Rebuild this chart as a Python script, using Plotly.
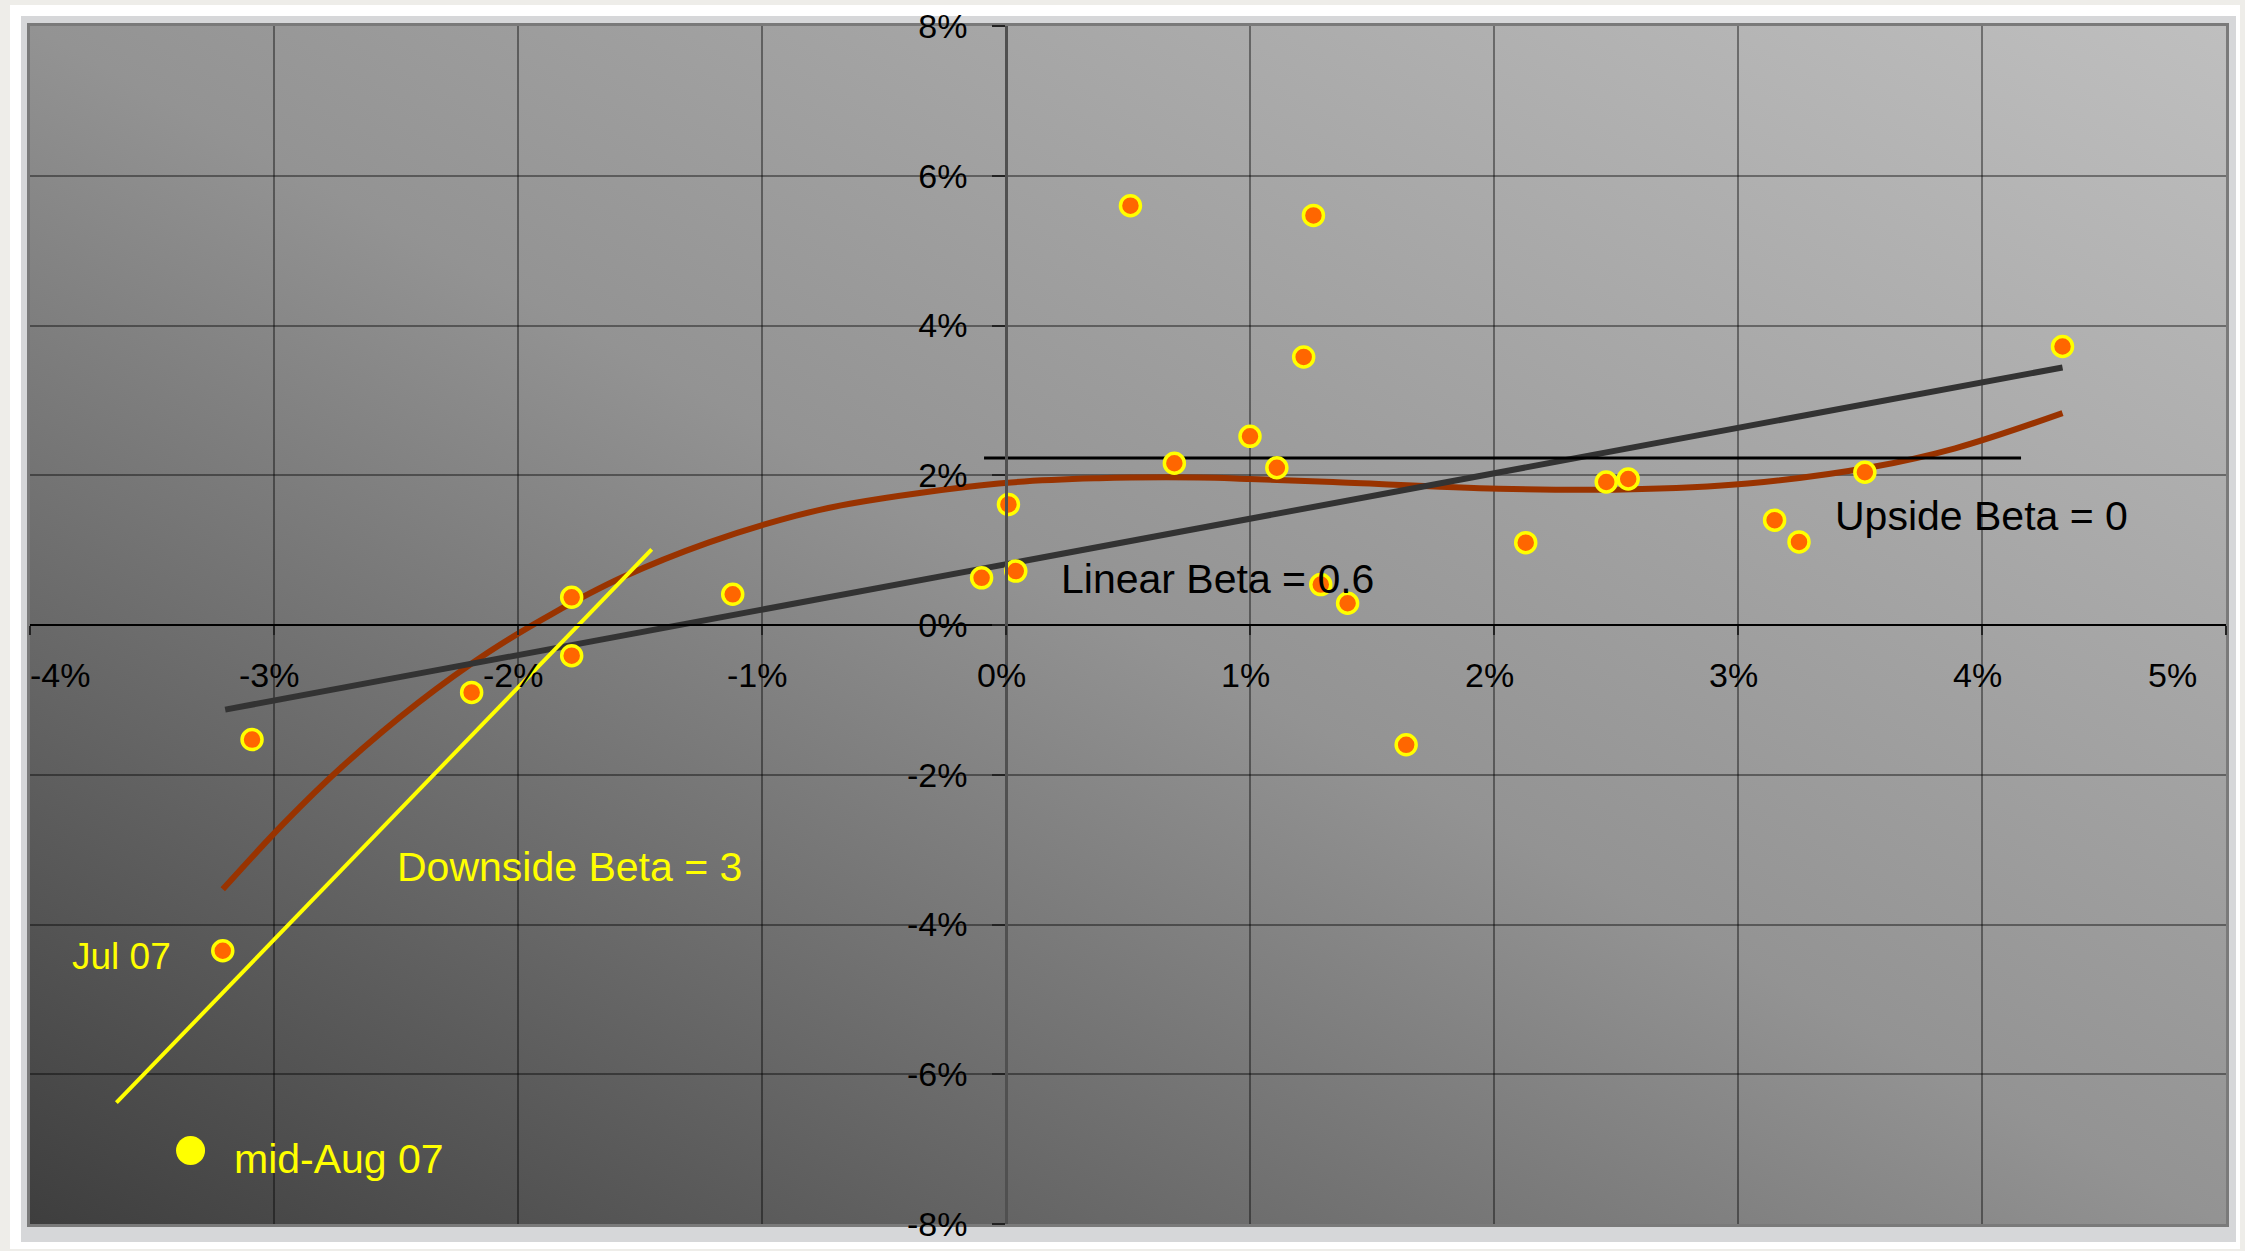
import base64
import plotly.graph_objects as go

# ---------------- data (values in %) ----------------
market_ret = [-3.21, -3.09, -2.19, -1.78, -1.78, -1.12, -0.10, 0.01, 0.04, 0.51, 0.69, 1.00, 1.11,
              1.22, 1.26, 1.29, 1.40, 1.64, 2.13, 2.46, 2.55, 3.15, 3.25, 3.52, 4.33]
fund_ret = [-4.35, -1.53, -0.90, 0.37, -0.41, 0.41, 0.63, 1.61, 0.72, 5.60, 2.16, 2.52, 2.10,
            3.58, 5.47, 0.54, 0.29, -1.60, 1.10, 1.91, 1.95, 1.40, 1.11, 2.04, 3.72]

# polynomial trend
poly_x = [-3.21, -2.96, -2.72, -2.41, -2.12, -1.86, -1.57, -1.22, -0.86, -0.64, -0.03, 0.38,
          0.79, 1.00, 1.34, 2.02, 2.53, 3.04, 3.55, 3.89, 4.33]
poly_y = [-3.53, -2.65, -1.89, -1.04, -0.36, 0.15, 0.64, 1.10, 1.46, 1.62, 1.89, 1.96,
          1.97, 1.95, 1.91, 1.82, 1.81, 1.89, 2.11, 2.36, 2.83]

# linear trend (beta 0.6)
linear_x = [-3.20, 4.33]
linear_y = [-1.13, 3.44]

# downside beta line
down_x = [-3.646, -1.452]
down_y = [-6.38, 1.01]

# upside beta line
up_x = [-0.09, 4.16]
up_y = [2.23, 2.23]

# mid-Aug 07 point
aug_x = [-3.342]
aug_y = [-7.02]

# axes
x_ticks = [-4, -3, -2, -1, 0, 1, 2, 3, 4, 5]
x_tick_labels = ["-4%", "-3%", "-2%", "-1%", "0%", "1%", "2%", "3%", "4%", "5%"]
y_ticks = [-8, -6, -4, -2, 0, 2, 4, 6, 8]
y_tick_labels = ["-8%", "-6%", "-4%", "-2%", "0%", "2%", "4%", "6%", "8%"]

# text labels
label_texts = ["Linear Beta = 0.6", "Upside Beta = 0", "Downside Beta = 3", "Jul 07", "mid-Aug 07"]
label_x = [0.867, 3.996, -1.788, -3.623, -2.734]
label_y = [0.61, 1.45, -3.23, -4.43, -7.13]
label_colors = ["#000000", "#000000", "#ffff00", "#ffff00", "#ffff00"]
label_sizes = [41, 41, 41, 37, 41]

# ---------------- figure ----------------
W, H = 2245, 1251
ML, MR, MT, MB = 30, 19, 26, 27
PW, PH = W - ML - MR, H - MT - MB
FONT = "Liberation Sans, Arial, sans-serif"


def px_x(p):
    return (p - ML) / PW


def px_y(p):
    return (H - MB - p) / PH


fig = go.Figure()

fig.add_trace(go.Scatter(x=poly_x, y=poly_y, mode="lines", line=dict(color="#993300", width=6, shape="spline"),
                         hoverinfo="skip"))
fig.add_trace(go.Scatter(x=linear_x, y=linear_y, mode="lines", line=dict(color="#333333", width=6),
                         hoverinfo="skip"))
fig.add_trace(go.Scatter(x=down_x, y=down_y, mode="lines", line=dict(color="#ffff00", width=4),
                         hoverinfo="skip"))
fig.add_trace(go.Scatter(x=up_x, y=up_y, mode="lines", line=dict(color="#000000", width=3),
                         hoverinfo="skip"))
fig.add_trace(go.Scatter(x=market_ret, y=fund_ret, mode="markers",
                         marker=dict(color="#ff6600", size=20, line=dict(color="#ffff00", width=3.5))))
fig.add_trace(go.Scatter(x=aug_x, y=aug_y, mode="markers",
                         marker=dict(color="#ffff00", size=29, line=dict(width=0))))

# gradient background for the plot area
svg = ('<svg xmlns="http://www.w3.org/2000/svg" width="200" height="200" viewBox="0 0 200 200" '
       'preserveAspectRatio="none"><defs><linearGradient id="g" x1="0" y1="1" x2="1" y2="0">'
       '<stop offset="0" stop-color="#3e3e3e"/><stop offset="0.5" stop-color="#939393"/>'
       '<stop offset="1" stop-color="#bfbfbf"/></linearGradient></defs>'
       '<rect width="200" height="200" fill="url(#g)"/></svg>')
src = "data:image/svg+xml;base64," + base64.b64encode(svg.encode()).decode()
fig.add_layout_image(dict(source=src, xref="x", yref="y", x=x_ticks[0], y=y_ticks[-1],
                          sizex=x_ticks[-1] - x_ticks[0], sizey=y_ticks[-1] - y_ticks[0],
                          xanchor="left", yanchor="top", sizing="stretch", layer="below"))

# frame
shapes = [
    dict(type="rect", xref="paper", yref="paper", x0=px_x(10), x1=px_x(2240), y0=px_y(1249), y1=px_y(5),
         fillcolor="#ffffff", line=dict(width=0), layer="below"),
    dict(type="rect", xref="paper", yref="paper", x0=px_x(21), x1=px_x(2236), y0=px_y(1242), y1=px_y(16),
         fillcolor="#d6d7d9", line=dict(width=0), layer="below"),
    dict(type="rect", xref="paper", yref="paper", x0=px_x(27), x1=px_x(2229), y0=px_y(1227), y1=px_y(23),
         fillcolor="#7a7a7a", line=dict(width=0), layer="below"),
]

annotations = []
for i, (v, lab) in enumerate(zip(x_ticks, x_tick_labels)):
    if i == 0:
        anchor, shift = "left", -2
    elif i == len(x_ticks) - 1:
        anchor, shift = "right", -27
    else:
        anchor, shift = "center", -5
    annotations.append(dict(x=v, y=0, xref="x", yref="y", text=lab, showarrow=False, xanchor=anchor,
                            yanchor="middle", xshift=shift, yshift=-50,
                            font=dict(family=FONT, size=34, color="#000000")))
for t, lx, ly, c, s in zip(label_texts, label_x, label_y, label_colors, label_sizes):
    annotations.append(dict(x=lx, y=ly, xref="x", yref="y", text=t, showarrow=False, xanchor="center",
                            yanchor="middle", font=dict(family=FONT, size=s, color=c)))

grid = "rgba(0,0,0,0.4)"
fig.update_layout(
    template="none",
    width=W, height=H,
    margin=dict(l=ML, r=MR, t=MT, b=MB, pad=0),
    paper_bgcolor="#eeede9",
    plot_bgcolor="rgba(0,0,0,0)",
    showlegend=False,
    hovermode=False,
    shapes=shapes,
    annotations=annotations,
    xaxis=dict(range=[x_ticks[0], x_ticks[-1]], tickvals=x_ticks, showticklabels=False,
               showgrid=True, gridcolor=grid, gridwidth=1.5, zeroline=False,
               anchor="free", position=0.5, showline=True, linecolor="#000000", linewidth=2,
               ticks="outside", ticklen=9, tickwidth=1.5, tickcolor="#222222", automargin=False,
               fixedrange=True),
    yaxis=dict(range=[y_ticks[0], y_ticks[-1]], tickvals=y_ticks, ticktext=y_tick_labels,
               showgrid=True, gridcolor=grid, gridwidth=1.5, zeroline=False,
               anchor="free", position=(0 - x_ticks[0]) / (x_ticks[-1] - x_ticks[0]),
               showline=True, linecolor="#505050", linewidth=2.5,
               ticks="outside", ticklen=13, tickwidth=1.5, tickcolor="#222222",
               ticklabelstandoff=18, tickfont=dict(family=FONT, size=34, color="#000000"),
               automargin=False, fixedrange=True),
)

fig.write_html("out.html", config={"displayModeBar": False},
               post_script="document.body.style.margin='0px';document.body.style.overflow='hidden';")
